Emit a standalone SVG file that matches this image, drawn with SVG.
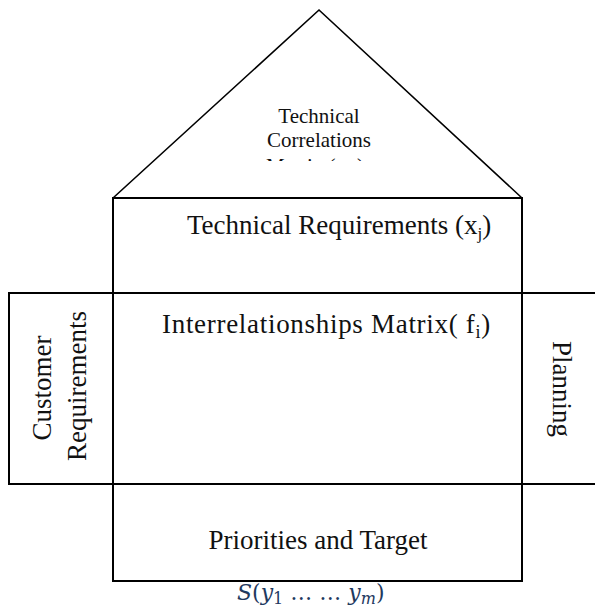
<svg xmlns="http://www.w3.org/2000/svg" width="595" height="607" viewBox="0 0 595 607">
  <style>
    .ln { fill: none; stroke: #000; stroke-width: 2; }
    .roof { fill: none; stroke: #000; stroke-width: 1.6; stroke-linejoin: miter; }
    .t { font-family: "Liberation Serif", "Times New Roman", serif; fill: #111; }
    .big { font-size: 27px; }
    .small { font-size: 21px; }
    .math { font-family: "DejaVu Serif", "Liberation Serif", serif; fill: #1f3a5f; font-size: 22px; }
  </style>
  <defs>
    <clipPath id="roofclip">
      <rect x="240" y="150" width="160" height="11"/>
    </clipPath>
  </defs>
  <rect width="595" height="607" fill="#fff"/>

  <g id="roof">
    <polyline class="roof" points="113,198 319,10 522,198"/>
    <text class="t small" x="319" y="123" text-anchor="middle">Technical</text>
    <text class="t small" x="319" y="147" text-anchor="middle">Correlations</text>
    <text class="t small" x="315" y="173" text-anchor="middle" clip-path="url(#roofclip)">Matrix (g<tspan font-size="14" dy="4">jk</tspan><tspan dy="-4">)</tspan></text>
  </g>

  <g id="technical-requirements">
    <rect class="ln" x="113" y="198" width="409" height="95"/>
    <text class="t big" x="187" y="234">Technical Requirements (x<tspan font-size="17" dy="5">j</tspan><tspan dy="-5">)</tspan></text>
  </g>

  <g id="customer-requirements">
    <rect class="ln" x="9" y="293" width="104" height="191"/>
    <text class="t big" transform="translate(51,388) rotate(-90)" text-anchor="middle">Customer</text>
    <text class="t big" transform="translate(86,386) rotate(-90)" text-anchor="middle">Requirements</text>
  </g>

  <g id="interrelationships-matrix">
    <rect class="ln" x="113" y="293" width="409" height="191"/>
    <text class="t big" x="162" y="333" letter-spacing="0.7">Interrelationships Matrix( f<tspan font-size="18" dy="5">i</tspan><tspan dy="-5">)</tspan></text>
  </g>

  <g id="planning">
    <rect class="ln" x="522" y="293" width="80" height="191"/>
    <text class="t big" transform="translate(553,389) rotate(90)" text-anchor="middle">Planning</text>
  </g>

  <g id="priorities">
    <rect class="ln" x="113" y="484" width="409" height="97"/>
    <text class="t big" x="318" y="549" text-anchor="middle">Priorities and Target</text>
    <text class="math" x="237" y="600"><tspan font-style="italic">S</tspan>(<tspan font-style="italic">y</tspan><tspan font-size="16" dy="4">1</tspan><tspan dy="-4"> … … </tspan><tspan font-style="italic">y</tspan><tspan font-size="16" font-style="italic" dy="4">m</tspan><tspan dy="-4">)</tspan></text>
  </g>

  <g id="connectors"></g>
</svg>
